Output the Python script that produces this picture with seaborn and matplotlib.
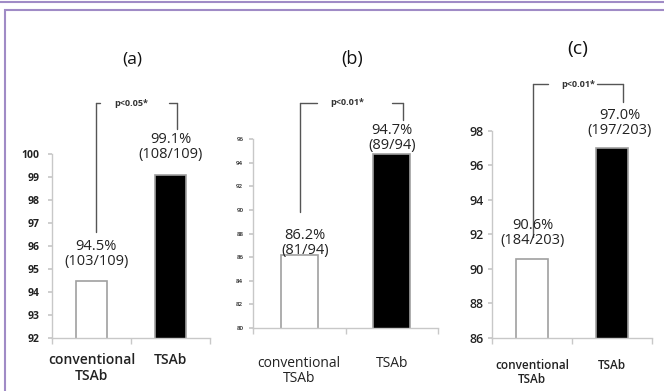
import matplotlib
matplotlib.use("Agg")
import matplotlib.pyplot as plt
import seaborn as sns
import numpy as np
from matplotlib.patches import Rectangle
from matplotlib.lines import Line2D

sns.set_theme(style="white")
plt.rcParams['font.family'] = ['Open Sans', 'DejaVu Sans']

# data
categories = ["conventional\nTSAb", "TSAb"]
panel_names = ["(a)", "(b)", "(c)"]
values_a = [94.5, 99.1]
values_b = [86.2, 94.7]
values_c = [90.6, 97.0]
counts_a = ["(103/109)", "(108/109)"]
counts_b = ["(81/94)", "(89/94)"]
counts_c = ["(184/203)", "(197/203)"]
pvals = ["p<0.05*", "p<0.01*", "p<0.01*"]

W, H = 664, 391
fig = plt.figure(figsize=(W / 100, H / 100), dpi=100)

# purple frame
fig.add_artist(Line2D([0, 1], [1 - 1.5 / H, 1 - 1.5 / H], color="#a08bc6", lw=1.5, transform=fig.transFigure))
fig.add_artist(Rectangle((5 / W, -0.1), 2, 1 - 10 / H + 0.1, transform=fig.transFigure,
                         fill=False, edgecolor="#a08bc6", lw=1.5))


def px_axes(left, top, right, bottom):
    return fig.add_axes([left / W, (H - bottom) / H, (right - left) / W, (bottom - top) / H])


panels = [
    dict(ax=px_axes(52, 154, 210, 338), vals=values_a, counts=counts_a, ylim=(92, 100), step=1,
         tfs=7.5, tw="bold", tpad=6, xfs=10, xw="semibold", xpad=11, xls=1.15,
         br=dict(left=0.06, right=1.08, top=102.2, lbot=96.6, rbot=101.1, l2=0.11, r1=0.98, tx=0.5),
         lab=[(0.06, 95.0), (1.0, 99.65)], title=(132, 60), tsz=12.5),
    dict(ax=px_axes(253, 139, 438, 328), vals=values_b, counts=counts_b, ylim=(80, 96), step=2,
         tfs=4.5, tw="semibold", tpad=4, xfs=10, xw="normal", xpad=20, xls=1.05,
         br=dict(left=0.01, right=1.12, top=99.05, lbot=89.8, rbot=97.6, l2=0.19, r1=1.0, tx=0.52),
         lab=[(0.06, 85.95), (1.0, 94.85)], title=(352, 59), tsz=13),
    dict(ax=px_axes(492, 131, 652, 338), vals=values_c, counts=counts_c, ylim=(86, 98), step=2,
         tfs=9, tw="semibold", tpad=3, xfs=8.5, xw="semibold", xpad=15, xls=1.15,
         br=dict(left=0.01, right=1.14, top=100.72, lbot=91.86, rbot=99.68, l2=0.2, r1=0.81, tx=0.58),
         lab=[(0.01, 91.2), (1.1, 97.6)], title=(578, 49), tsz=14),
]

for i, p in enumerate(panels):
    ax = p["ax"]
    sns.barplot(x=categories, y=p["vals"], hue=categories, palette=["white", "black"],
                edgecolor="#a0a0a0", linewidth=1.2, width=0.4, legend=False, ax=ax)
    ax.set_xlim(-0.5, 1.5)
    ax.set_ylim(*p["ylim"])
    ax.set_yticks(np.arange(p["ylim"][0], p["ylim"][1] + 0.01, p["step"]))
    for s in ["top", "right"]:
        ax.spines[s].set_visible(False)
    for s in ["left", "bottom"]:
        ax.spines[s].set_color("#c8c8c8")
        ax.spines[s].set_linewidth(1)
    ax.tick_params(axis="y", left=True, length=3, color="#c8c8c8", labelsize=p["tfs"], pad=p["tpad"])
    for t in ax.get_yticklabels():
        t.set_fontweight(p["tw"])
        t.set_color("#222222")
    ax.set_xticks([-0.5, 0.5, 1.5], minor=True)
    ax.tick_params(axis="x", which="minor", bottom=True, length=4, color="#c8c8c8")
    ax.tick_params(axis="x", which="major", length=0, labelsize=p["xfs"], pad=p["xpad"])
    for t in ax.get_xticklabels():
        t.set_color("#222222")
        t.set_fontweight(p["xw"])
        t.set_linespacing(p["xls"])
    ax.set_xlabel("")
    ax.set_ylabel("")
    ax.grid(False)

    # percent labels
    for (lx, ly), v, c in zip(p["lab"], p["vals"], p["counts"]):
        ax.text(lx, ly, f"{v:.1f}%\n{c}", ha="center", va="bottom", fontsize=10.5,
                color="#222222", linespacing=1.0, clip_on=False)

    # significance bracket
    b = p["br"]
    kw = dict(color="#555555", lw=1.0, clip_on=False)
    ax.plot([b["left"], b["left"]], [b["lbot"], b["top"]], **kw)
    ax.plot([b["left"], b["l2"]], [b["top"], b["top"]], **kw)
    ax.plot([b["r1"], b["right"]], [b["top"], b["top"]], **kw)
    ax.plot([b["right"], b["right"]], [b["top"], b["rbot"]], **kw)
    ax.text(b["tx"], b["top"], pvals[i], ha="center", va="center", fontsize=6.5,
            fontweight="bold", color="#333333", clip_on=False)

    fig.text(p["title"][0] / W, 1 - p["title"][1] / H, panel_names[i], ha="center", va="center",
             fontsize=p["tsz"], color="#111111")

fig.savefig("out.png", dpi=100)
